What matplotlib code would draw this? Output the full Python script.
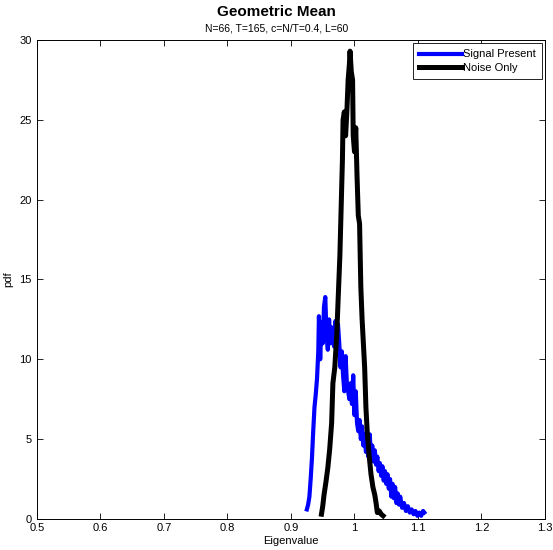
import matplotlib
matplotlib.use('Agg')
from matplotlib import pyplot as plt
import numpy as np

plt.rcParams['font.family'] = ['Liberation Sans', 'DejaVu Sans']

# Signal present (blue)
sig_x = [0.925, 0.927, 0.929, 0.931, 0.933, 0.935, 0.937, 0.939, 0.941, 0.943,
         0.944, 0.946, 0.948, 0.950, 0.952, 0.954, 0.956, 0.958, 0.960, 0.962,
         0.964, 0.966, 0.968, 0.970, 0.972, 0.974, 0.976, 0.978, 0.980, 0.982,
         0.984, 0.986, 0.988, 0.990, 0.992, 0.994, 0.996, 0.998, 1.000, 1.002,
         1.004, 1.006, 1.008, 1.010, 1.012, 1.014, 1.016, 1.018, 1.020, 1.022,
         1.024, 1.026, 1.028, 1.030, 1.032, 1.034, 1.036, 1.038, 1.040, 1.042,
         1.044, 1.046, 1.048, 1.050, 1.052, 1.054, 1.056, 1.058, 1.060, 1.062,
         1.064, 1.066, 1.068, 1.070, 1.072, 1.075, 1.078, 1.081, 1.084, 1.087,
         1.090, 1.093, 1.096, 1.099, 1.102, 1.105, 1.108, 1.110]
sig_y = [0.6, 0.9, 1.4, 2.5, 3.8, 5.5, 7.0, 7.8, 8.8, 10.5,
         12.7, 10.0, 12.3, 11.0, 13.3, 13.9, 11.5, 10.6, 12.5, 11.0,
         12.0, 11.3, 10.8, 12.4, 11.5, 12.2, 11.0, 9.5, 10.5, 9.0,
         8.0, 10.2, 8.5, 8.0, 7.5, 8.5, 7.2, 9.0, 6.5, 8.0,
         6.0, 5.5, 6.2, 5.0, 5.8, 4.6, 5.3, 4.2, 4.8, 3.9,
         5.3, 4.0, 4.6, 3.6, 4.3, 3.4, 3.9, 3.0, 3.5, 2.7,
         3.3, 2.4, 3.0, 2.2, 2.8, 1.9, 2.5, 1.4, 2.2, 1.3,
         2.0, 1.0, 1.6, 0.9, 1.4, 0.7, 1.0, 0.5, 0.8, 0.4,
         0.6, 0.3, 0.5, 0.2, 0.4, 0.2, 0.5, 0.4]

# Noise only (black)
noise_x = [0.948, 0.950, 0.952, 0.955, 0.958, 0.961, 0.964, 0.966, 0.969, 0.972,
           0.975, 0.977, 0.979, 0.981, 0.982, 0.984, 0.986, 0.988, 0.990, 0.992,
           0.993, 0.995, 0.997, 0.998, 1.000, 1.002, 1.004, 1.006, 1.008, 1.010,
           1.012, 1.014, 1.016, 1.018, 1.020, 1.023, 1.026, 1.029, 1.032, 1.034,
           1.036, 1.039, 1.042, 1.045]
noise_y = [0.3, 0.8, 1.5, 2.3, 3.2, 4.4, 6.0, 8.5, 9.5, 11.5,
           14.5, 16.5, 19.5, 22.5, 25.0, 25.5, 24.0, 25.5, 27.5, 28.5,
           29.3, 28.0, 27.5, 24.0, 23.0, 24.5, 21.5, 19.0, 18.5, 14.5,
           12.5, 11.0, 9.5, 7.0, 5.5, 4.0, 2.8, 2.0, 1.5, 1.0,
           0.4, 0.5, 0.3, 0.2]

xticks = [0.5, 0.6, 0.7, 0.8, 0.9, 1, 1.1, 1.2, 1.3]
xlabels = ['0.5', '0.6', '0.7', '0.8', '0.9', '1', '1.1', '1.2', '1.3']
yticks = [0, 5, 10, 15, 20, 25, 30]

fig = plt.figure(figsize=(5.53, 5.5), dpi=100)
ax = fig.add_axes([0.0669, 0.0564, 0.9186, 0.8709])

ax.plot(sig_x, sig_y, color=(0, 0, 1), lw=3.0, label='Signal Present')
ax.plot(noise_x, noise_y, color='k', lw=3.6, label='Noise Only')

ax.set_xlim(0.5, 1.3)
ax.set_ylim(0, 30)
ax.set_xticks(xticks)
ax.set_xticklabels(xlabels)
ax.set_yticks(yticks)
ax.tick_params(direction='in', top=True, right=True, labelsize=8, length=4, width=0.6)
ax.tick_params(axis='x', pad=3)
ax.tick_params(axis='y', pad=4)
for s in ax.spines.values():
    s.set_linewidth(0.7)

ax.set_xlabel('Eigenvalue', fontsize=8, labelpad=2)
ax.set_ylabel('pdf', fontsize=8, labelpad=4)

fig.text(0.5, 0.978, 'Geometric Mean', ha='center', va='center', fontsize=11, fontweight='bold')
fig.text(0.5, 0.949, 'N=66, T=165, c=N/T=0.4, L=60', ha='center', va='center', fontsize=7.5)

leg = ax.legend(loc='upper right', fontsize=8, fancybox=False, framealpha=1,
                edgecolor='k', handlelength=3.8, handletextpad=0.1,
                borderaxespad=0.3, borderpad=0.55, labelspacing=0.35)
leg.get_frame().set_linewidth(0.6)

plt.savefig('out.png', dpi=100)
